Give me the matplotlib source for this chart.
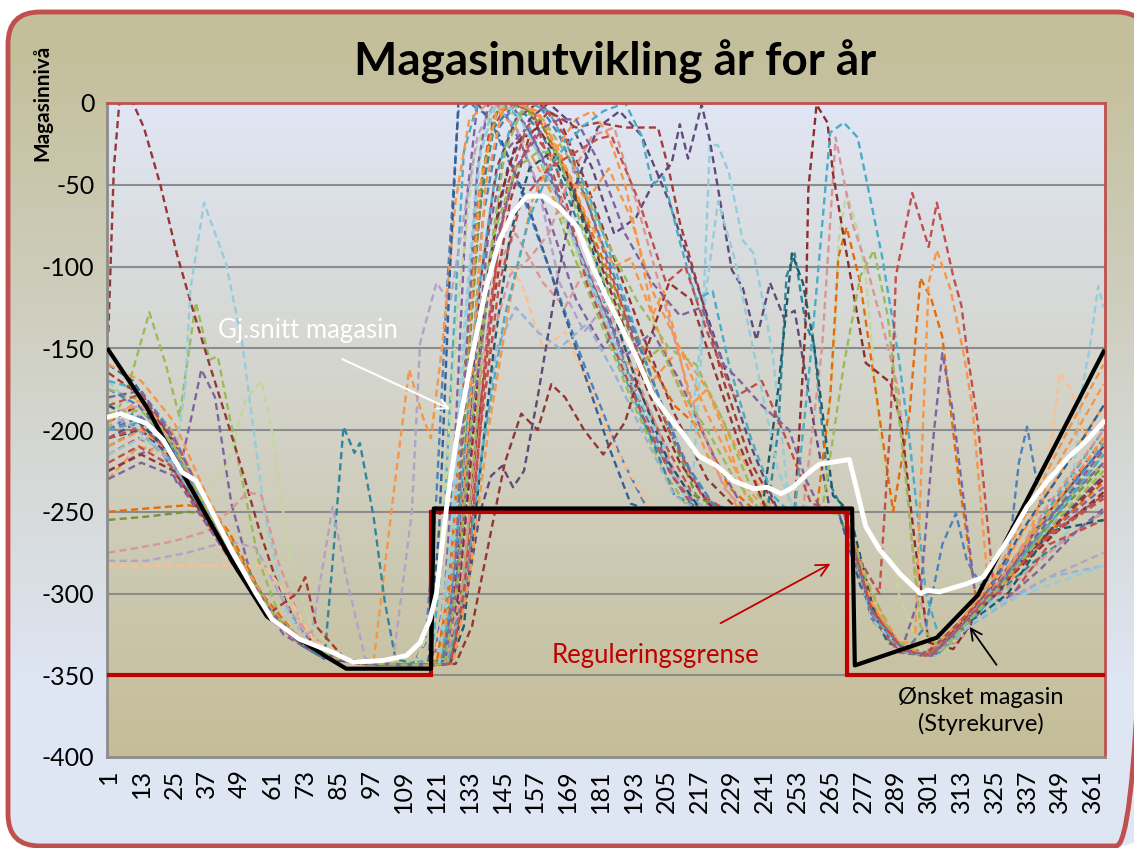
import numpy as np
import matplotlib
matplotlib.use("Agg")
import matplotlib.pyplot as plt
from matplotlib.patches import FancyBboxPatch
from matplotlib.colors import to_rgb

plt.rcParams['font.family'] = ['Lato', 'DejaVu Sans']

# ---------------- data (day, level) ----------------
aar01 = [(1,-200),(10,-190),(20,-200),(30,-235),(42,-268),(55,-300),(68,-325),(80,-338),(95,-343),(112,-344),(117,-330),(121,-240),(125,-110),(129,-5),(133,0),(140,-8),(150,-45),(162,-100),(175,-160),(188,-215),(198,-248),(215,-250),(240,-248),(268,-250),(276,-290),(285,-325),(295,-337),(305,-333),(315,-318),(328,-290),(345,-255),(365,-215)]
aar02 = [(1,-215),(12,-205),(22,-212),(35,-250),(48,-285),(60,-315),(72,-332),(85,-341),(100,-343),(118,-344),(124,-320),(129,-230),(134,-110),(140,-20),(147,0),(156,-5),(165,-50),(176,-105),(186,-150),(195,-175),(205,-210),(215,-240),(228,-250),(270,-250),(279,-305),(290,-330),(300,-337),(312,-320),(325,-300),(340,-268),(365,-228)]
aar03 = [(1,-200),(8,-175),(16,-128),(22,-160),(27,-192),(33,-122),(38,-157),(41,-155),(49,-223),(56,-280),(65,-320),(78,-336),(92,-342),(110,-343),(122,-340),(127,-280),(132,-170),(137,-60),(143,-5),(150,-2),(158,-30),(168,-80),(180,-130),(192,-180),(204,-225),(214,-250),(250,-248),(272,-252),(281,-318),(292,-335),(302,-336),(314,-316),(326,-296),(340,-262),(365,-220)]
aar04 = [(1,-225),(12,-215),(20,-210),(26,-232),(31,-195),(35,-163),(40,-180),(46,-245),(55,-300),(65,-325),(78,-338),(92,-343),(110,-344),(120,-342),(124,-300),(128,-200),(132,-60),(136,0),(144,0),(152,-25),(162,-70),(172,-120),(182,-150),(190,-130),(198,-160),(208,-205),(220,-245),(232,-250),(270,-250),(278,-300),(288,-332),(300,-338),(313,-318),(326,-298),(340,-270),(365,-235)]
aar05 = [(1,-185),(14,-195),(26,-225),(38,-258),(50,-288),(62,-316),(74,-333),(86,-341),(98,-343),(110,-344),(119,-340),(123,-280),(127,-150),(131,-30),(136,0),(145,0),(155,-15),(165,-55),(177,-110),(188,-160),(198,-200),(210,-235),(222,-250),(270,-250),(280,-310),(292,-336),(303,-338),(314,-318),(326,-295),(342,-255),(365,-200)]
aar06 = [(1,-230),(12,-210),(24,-215),(36,-250),(48,-285),(60,-313),(72,-330),(84,-340),(98,-342),(105,-243),(111,-163),(116,-192),(119,-205),(123,-150),(128,-60),(133,-10),(140,0),(150,-15),(160,-45),(170,-80),(180,-118),(190,-158),(200,-170),(210,-150),(220,-175),(232,-215),(244,-248),(270,-250),(278,-298),(289,-332),(300,-338),(312,-318),(325,-292),(340,-250),(365,-185)]
aar07 = [(1,-140),(3,-40),(5,0),(10,0),(14,-15),(20,-50),(26,-92),(32,-127),(38,-160),(44,-192),(50,-225),(56,-260),(62,-290),(70,-320),(80,-337),(92,-343),(112,-344),(122,-343),(127,-310),(132,-220),(137,-110),(143,-40),(150,-10),(158,0),(166,-10),(176,-50),(186,-95),(196,-140),(208,-190),(220,-230),(232,-250),(270,-250),(279,-305),(290,-334),(302,-337),(314,-317),(327,-292),(345,-250),(365,-210)]
aar08 = [(1,-170),(12,-190),(20,-205),(25,-220),(29,-176),(31,-114),(36,-61),(44,-98),(50,-147),(58,-250),(66,-310),(76,-334),(90,-342),(110,-344),(121,-342),(126,-270),(131,-140),(136,-40),(141,-5),(148,0),(156,-20),(166,-60),(178,-115),(190,-165),(202,-210),(214,-248),(218,-150),(221,-25),(224,-26),(228,-43),(233,-84),(237,-92),(242,-135),(244,-155),(250,-245),(270,-250),(280,-315),(292,-337),(303,-338),(315,-318),(328,-300),(345,-275),(352,-262),(357,-176),(360,-149),(363,-112),(365,-125)]
aar09 = [(1,-180),(12,-200),(24,-225),(36,-240),(45,-220),(51,-182),(57,-170),(61,-202),(67,-275),(75,-320),(87,-340),(100,-343),(113,-344),(119,-320),(124,-240),(129,-120),(135,-30),(142,0),(152,-10),(162,-45),(174,-100),(186,-150),(198,-195),(210,-235),(222,-250),(262,-250),(267,-135),(268,-84),(271,-55),(275,-78),(278,-106),(283,-200),(290,-300),(298,-335),(308,-336),(318,-312),(330,-285),(345,-255),(365,-225)]
aar10 = [(1,-210),(12,-200),(24,-220),(36,-252),(48,-283),(60,-312),(72,-332),(80,-340),(83,-281),(87,-198),(91,-214),(93,-208),(98,-253),(102,-304),(106,-340),(115,-344),(122,-343),(126,-300),(131,-180),(136,-70),(142,-15),(150,0),(160,-20),(172,-70),(184,-130),(196,-190),(208,-240),(220,-250),(242,-250),(246,-200),(249,-106),(252,-92),(256,-135),(259,-147),(264,-230),(270,-250),(280,-312),(292,-336),(303,-338),(314,-320),(326,-300),(340,-280),(365,-250)]
aar11 = [(1,-280),(15,-280),(30,-275),(45,-268),(55,-272),(65,-305),(75,-328),(83,-247),(88,-290),(95,-340),(105,-343),(112,-250),(115,-147),(121,-110),(126,-122),(131,-70),(136,-20),(142,0),(150,-15),(158,-50),(166,-110),(175,-140),(182,-125),(190,-160),(200,-200),(212,-240),(222,-250),(270,-250),(280,-310),(292,-336),(302,-338),(314,-320),(328,-305),(345,-290),(365,-275)]
aar12 = [(1,-275),(12,-272),(25,-268),(37,-262),(45,-250),(52,-238),(57,-240),(63,-280),(72,-320),(85,-340),(100,-343),(118,-344),(125,-335),(131,-270),(137,-170),(143,-100),(150,-80),(160,-110),(168,-125),(176,-100),(185,-130),(196,-175),(208,-225),(218,-250),(255,-250),(262,-150),(267,-21),(273,-73),(278,-98),(284,-135),(290,-176),(296,-290),(302,-333),(312,-330),(322,-306),(335,-290),(350,-268),(365,-250)]
aar13 = [(1,-283),(15,-283),(30,-283),(45,-283),(58,-283),(66,-300),(76,-328),(90,-342),(110,-344),(120,-342),(126,-290),(132,-200),(138,-130),(145,-95),(152,-110),(160,-150),(168,-140),(176,-170),(186,-210),(198,-245),(210,-250),(270,-250),(280,-310),(292,-335),(303,-337),(315,-315),(328,-290),(340,-255),(346,-205),(349,-165),(353,-175),(358,-205),(365,-195)]
aar14 = [(1,-250),(15,-248),(30,-246),(38,-248),(45,-262),(57,-300),(70,-326),(82,-338),(95,-343),(112,-344),(121,-343),(126,-290),(131,-170),(136,-60),(142,-8),(150,0),(158,-8),(168,-40),(178,-80),(188,-120),(198,-155),(208,-185),(218,-200),(228,-235),(238,-250),(260,-250),(265,-180),(268,-94),(271,-76),(276,-110),(282,-180),(288,-250),(294,-190),(298,-107),(302,-120),(306,-143),(312,-230),(318,-300),(326,-300),(340,-270),(365,-232)]
aar15 = [(1,-255),(15,-253),(30,-250),(40,-252),(50,-280),(62,-314),(74,-332),(86,-340),(100,-343),(116,-344),(123,-340),(128,-280),(133,-150),(138,-40),(144,0),(152,0),(160,-15),(170,-50),(182,-100),(194,-150),(206,-200),(216,-240),(226,-250),(268,-250),(276,-290),(286,-328),(298,-338),(310,-330),(322,-305),(336,-275),(350,-248),(365,-222)]
aar16 = [(1,-160),(10,-170),(22,-200),(34,-240),(46,-275),(58,-308),(70,-329),(82,-339),(96,-343),(112,-344),(118,-343),(122,-260),(126,-100),(129,0),(136,0),(144,-20),(154,-60),(164,-110),(174,-160),(184,-210),(192,-245),(200,-250),(268,-250),(276,-295),(286,-330),(298,-338),(310,-325),(322,-300),(335,-262),(350,-225),(365,-185)]
aar17 = [(1,-165),(12,-178),(24,-205),(36,-245),(48,-282),(60,-312),(70,-300),(73,-290),(77,-320),(88,-341),(100,-343),(118,-344),(126,-340),(131,-290),(136,-200),(142,-120),(148,-60),(155,-20),(162,-5),(172,-15),(180,-12),(190,-15),(196,-15),(202,-15),(206,-41),(210,-73),(218,-120),(226,-170),(236,-220),(246,-250),(270,-250),(280,-308),(290,-334),(300,-337),(312,-318),(325,-295),(340,-262),(365,-205)]
aar18 = [(1,-205),(12,-195),(25,-215),(37,-252),(49,-284),(61,-313),(73,-331),(85,-340),(97,-343),(112,-344),(124,-343),(129,-300),(134,-200),(140,-100),(147,-40),(155,-10),(162,0),(170,-12),(178,-40),(186,-80),(194,-70),(200,-50),(207,-37),(210,-13),(213,-34),(218,-1),(221,-23),(229,-102),(233,-113),(238,-145),(243,-110),(248,-131),(252,-127),(259,-196),(265,-250),(270,-250),(280,-310),(292,-335),(302,-338),(313,-318),(326,-300),(340,-272),(365,-240)]
aar19 = [(1,-195),(12,-185),(24,-205),(36,-248),(48,-282),(60,-312),(72,-331),(84,-340),(98,-343),(114,-344),(123,-343),(128,-320),(133,-230),(138,-130),(144,-60),(150,-25),(158,-15),(168,-40),(178,-85),(188,-130),(198,-175),(210,-220),(222,-248),(252,-250),(256,-135),(257,-53),(260,-1),(264,-12),(266,-43),(272,-102),(278,-159),(287,-171),(291,-196),(296,-270),(301,-330),(310,-334),(320,-310),(332,-288),(348,-262),(365,-238)]
aar20 = [(1,-170),(12,-175),(24,-200),(36,-245),(48,-280),(60,-311),(72,-330),(84,-340),(98,-343),(115,-344),(122,-343),(126,-310),(131,-220),(136,-120),(142,-50),(148,-15),(155,0),(162,-5),(170,-30),(180,-70),(190,-120),(200,-170),(212,-220),(224,-250),(252,-250),(257,-170),(260,-114),(265,-18),(270,-12),(275,-21),(278,-45),(284,-94),(290,-155),(294,-206),(300,-300),(306,-333),(316,-318),(328,-295),(345,-255),(365,-208)]
aar21 = [(1,-220),(12,-210),(24,-222),(36,-255),(48,-286),(60,-314),(72,-331),(84,-340),(98,-343),(115,-344),(125,-343),(130,-310),(135,-220),(141,-120),(147,-50),(154,-15),(160,-2),(168,-20),(176,-60),(186,-110),(196,-160),(206,-200),(218,-240),(228,-250),(270,-250),(276,-280),(283,-300),(287,-196),(288,-155),(289,-106),(295,-55),(301,-88),(304,-61),(310,-106),(313,-124),(315,-151),(319,-196),(325,-300),(332,-300),(345,-270),(365,-255)]
aar22 = [(1,-195),(12,-182),(24,-200),(36,-242),(48,-280),(60,-311),(72,-330),(84,-340),(98,-343),(115,-344),(122,-342),(127,-290),(132,-160),(137,-50),(143,-5),(150,0),(158,-5),(166,-30),(176,-70),(186,-100),(192,-95),(200,-130),(210,-175),(220,-215),(232,-250),(270,-250),(280,-300),(290,-330),(296,-330),(299,-194),(301,-110),(304,-90),(309,-114),(314,-155),(317,-186),(323,-300),(332,-290),(345,-230),(365,-172)]
aar23 = [(1,-230),(13,-220),(25,-228),(37,-258),(49,-287),(61,-315),(73,-332),(85,-341),(100,-343),(116,-344),(124,-343),(129,-290),(134,-180),(140,-80),(146,-30),(154,-15),(162,-40),(172,-85),(184,-135),(196,-185),(208,-230),(218,-250),(270,-250),(280,-315),(291,-335),(298,-300),(303,-200),(306,-153),(310,-190),(318,-300),(328,-305),(342,-285),(355,-262),(365,-248)]
aar24 = [(1,-190),(12,-200),(24,-220),(36,-250),(48,-283),(60,-312),(72,-331),(84,-340),(98,-343),(115,-344),(125,-343),(131,-300),(137,-220),(143,-150),(150,-125),(158,-140),(166,-150),(176,-135),(186,-165),(196,-200),(208,-240),(218,-250),(270,-250),(280,-312),(292,-336),(304,-338),(316,-320),(330,-305),(345,-290),(365,-283)]
aar25 = [(1,-175),(12,-185),(24,-210),(36,-248),(48,-282),(60,-312),(72,-331),(84,-340),(98,-343),(115,-344),(123,-343),(128,-300),(133,-180),(138,-70),(144,-15),(150,0),(158,0),(166,-20),(176,-60),(188,-115),(200,-170),(212,-220),(224,-250),(270,-250),(280,-312),(292,-336),(300,-320),(306,-270),(311,-251),(315,-280),(322,-300),(330,-280),(334,-220),(337,-198),(342,-245),(350,-240),(365,-210)]
aar26 = [(1,-185),(12,-195),(24,-215),(36,-250),(48,-284),(60,-313),(72,-331),(84,-340),(98,-343),(115,-344),(126,-343),(131,-320),(136,-240),(142,-150),(148,-80),(155,-40),(163,-30),(172,-60),(182,-110),(194,-170),(206,-220),(218,-250),(240,-250),(246,-175),(251,-92),(255,-110),(259,-147),(266,-240),(272,-250),(282,-318),(293,-336),(304,-337),(316,-318),(330,-300),(345,-262),(365,-255)]
aar27 = [(1,-175),(13,-182),(25,-210),(37,-248),(49,-282),(61,-312),(73,-331),(85,-340),(100,-343),(116,-344),(125,-343),(130,-310),(135,-210),(140,-100),(146,-30),(152,-5),(160,-10),(170,-35),(182,-80),(194,-120),(206,-150),(216,-160),(226,-195),(236,-235),(244,-250),(270,-250),(278,-290),(288,-328),(300,-338),(312,-322),(325,-298),(340,-260),(365,-215)]
aar28 = [(1,-160),(13,-170),(25,-195),(37,-240),(49,-278),(61,-311),(73,-330),(85,-340),(100,-343),(117,-344),(124,-343),(129,-290),(134,-160),(139,-50),(145,-5),(152,0),(160,-10),(168,-40),(176,-60),(184,-40),(192,-70),(200,-115),(210,-150),(220,-190),(232,-230),(242,-250),(270,-250),(280,-305),(290,-333),(300,-337),(312,-318),(325,-290),(340,-240),(352,-200),(365,-160)]
aar29 = [(1,-200),(13,-192),(25,-212),(37,-250),(49,-284),(61,-313),(73,-331),(85,-340),(100,-343),(117,-344),(124,-343),(128,-280),(132,-150),(136,-40),(140,0),(148,0),(156,-20),(166,-60),(178,-110),(190,-155),(200,-140),(210,-170),(222,-215),(234,-250),(270,-250),(280,-310),(292,-336),(302,-337),(314,-318),(326,-298),(340,-262),(365,-220)]
aar30 = [(1,-185),(13,-178),(25,-205),(37,-247),(49,-283),(61,-312),(73,-331),(85,-340),(100,-343),(118,-344),(126,-343),(132,-300),(138,-180),(144,-80),(150,-40),(157,-20),(164,-35),(170,-70),(176,-110),(186,-150),(196,-190),(206,-225),(216,-250),(270,-250),(280,-312),(290,-336),(300,-338),(312,-318),(325,-296),(340,-270),(365,-240)]
aar31 = [(1,-215),(13,-205),(25,-215),(37,-252),(49,-284),(61,-313),(73,-331),(85,-340),(100,-343),(116,-344),(122,-343),(127,-270),(132,-130),(137,-30),(143,0),(150,-5),(158,-30),(168,-70),(180,-120),(192,-170),(204,-210),(214,-200),(220,-110),(224,-60),(230,-95),(238,-160),(246,-225),(252,-250),(270,-250),(280,-315),(292,-336),(303,-338),(315,-320),(328,-305),(345,-295),(365,-283)]
aar32 = [(1,-190),(13,-185),(25,-208),(37,-248),(49,-282),(61,-312),(73,-331),(85,-340),(100,-343),(118,-344),(124,-343),(130,-300),(136,-210),(142,-140),(148,-105),(155,-95),(162,-80),(170,-45),(178,-20),(186,-15),(194,-60),(204,-120),(214,-180),(226,-235),(234,-250),(270,-250),(280,-312),(292,-336),(302,-338),(314,-318),(327,-292),(345,-245),(365,-200)]
aar33 = [(1,-205),(13,-200),(25,-218),(37,-252),(49,-285),(61,-314),(73,-332),(85,-340),(100,-343),(118,-344),(126,-343),(132,-300),(137,-250),(141,-228),(145,-222),(149,-235),(153,-225),(158,-180),(165,-110),(172,-50),(180,-15),(188,-5),(196,-20),(206,-60),(216,-110),(226,-160),(236,-210),(246,-250),(270,-250),(280,-312),(292,-336),(302,-338),(314,-318),(327,-295),(345,-262),(365,-228)]
aar34 = [(1,-225),(13,-215),(25,-225),(37,-256),(49,-286),(61,-314),(73,-332),(85,-341),(100,-343),(118,-344),(128,-343),(134,-320),(140,-270),(146,-220),(152,-190),(158,-200),(163,-172),(168,-180),(175,-200),(182,-215),(190,-195),(198,-150),(206,-110),(214,-120),(222,-160),(232,-210),(242,-250),(270,-250),(280,-312),(292,-336),(302,-338),(314,-318),(327,-295),(345,-262),(365,-230)]
aar35 = [(1,-210),(13,-200),(25,-215),(37,-250),(49,-283),(61,-312),(73,-331),(85,-340),(100,-343),(118,-344),(127,-343),(133,-290),(140,-200),(148,-120),(156,-60),(164,-30),(172,-10),(178,-5),(184,-20),(190,-50),(196,-95),(200,-130),(204,-115),(208,-140),(214,-185),(220,-175),(226,-200),(234,-240),(240,-250),(270,-250),(280,-310),(292,-335),(302,-338),(314,-318),(327,-292),(345,-250),(365,-205)]
aar36 = [(1,-200),(13,-195),(25,-212),(37,-250),(49,-284),(61,-313),(73,-331),(85,-340),(100,-343),(118,-344),(125,-343),(131,-300),(138,-210),(146,-130),(155,-70),(164,-35),(174,-15),(182,-5),(190,0),(196,-20),(200,-50),(204,-45),(210,-85),(216,-120),(222,-115),(228,-160),(236,-205),(244,-240),(250,-250),(270,-250),(280,-312),(292,-336),(302,-338),(314,-318),(327,-294),(345,-258),(365,-215)]
aar37 = [(1,-180),(13,-176),(25,-205),(37,-246),(49,-282),(61,-312),(73,-331),(85,-340),(100,-343),(117,-344),(124,-343),(129,-290),(135,-180),(142,-90),(150,-40),(160,-15),(166,-10),(172,-10),(180,-35),(190,-80),(200,-110),(210,-130),(218,-125),(226,-160),(232,-170),(240,-185),(250,-200),(256,-230),(262,-250),(270,-250),(280,-310),(292,-335),(302,-338),(314,-318),(327,-293),(345,-255),(365,-212)]
aar38 = [(1,-205),(13,-198),(25,-215),(37,-250),(49,-284),(61,-313),(73,-331),(85,-340),(100,-343),(118,-344),(126,-343),(131,-300),(137,-200),(144,-110),(152,-60),(162,-40),(172,-30),(180,-22),(185,-20),(195,-60),(205,-110),(212,-100),(220,-140),(230,-180),(240,-170),(250,-210),(258,-245),(270,-250),(280,-310),(292,-335),(302,-338),(314,-318),(327,-295),(345,-265),(365,-242)]
aar39 = [(1,-190),(13,-188),(25,-210),(37,-249),(49,-283),(61,-312),(73,-331),(85,-340),(100,-343),(118,-344),(124,-343),(129,-290),(135,-170),(142,-80),(150,-40),(158,-30),(165,-30),(175,-80),(185,-120),(195,-160),(203,-150),(210,-175),(220,-200),(230,-230),(240,-250),(262,-250),(270,-160),(276,-106),(281,-90),(286,-130),(292,-220),(298,-320),(306,-335),(316,-316),(328,-294),(345,-260),(365,-225)]

year_colors = ['#4f81bd', '#c0504d', '#9bbb59', '#8064a2', '#4bacc6', '#f79646', '#953735',
               '#93cddd', '#c3d69b', '#31859c', '#b3a2c7', '#d99694', '#fac090', '#e46c0a',
               '#77933c', '#376092', '#a33b38', '#604a7b', '#8b2e2c', '#4bacc6', '#c0504d',
               '#f79646', '#8064a2', '#95b3d7', '#4f81bd', '#215968', '#9bbb59', '#f79646',
               '#8064a2', '#c0504d', '#93cddd', '#d99694', '#5f497a', '#943634', '#f79646',
               '#4bacc6', '#8064a2', '#c0504d', '#9bbb59']

# average reservoir (Gj.snitt magasin)
snitt_dag = [1, 5.5, 15, 21, 28, 33, 38, 46.5, 55, 61, 71, 83, 90.5, 101.5, 110, 115, 118.6, 121, 125,
             128.5, 134, 139, 144, 149, 154, 160, 166, 172.5, 178, 183, 188, 194, 200, 206, 211, 217,
             223.6, 229.5, 237, 242, 247, 251.5, 256.5, 261, 272, 274.5, 278, 283, 290.5, 298, 300.5,
             305, 315, 321, 330, 337, 344.5, 352, 359, 365]
snitt_niva = [-192, -190, -196, -206, -226, -231, -247, -275, -300, -316, -328, -336, -342, -341, -338,
              -330, -316, -300, -243, -204, -155, -114, -84, -67, -57, -57, -64, -76, -100, -118, -135,
              -155, -178, -192, -202, -216, -222, -231, -236, -235, -239, -235, -227, -221, -218, -235,
              -259, -273, -288, -300, -298, -299, -294, -290, -267, -247, -231, -217, -206, -195]

# desired reservoir (Ønsket magasin / Styrekurve)
styre_dag = [1, 15, 28, 46.5, 59, 71, 81, 88, 119, 120, 273, 274, 304, 319, 365]
styre_niva = [-151, -186, -226, -281, -314, -328, -339, -346, -346, -248, -248, -344, -327, -301, -152]

# regulation limit (Reguleringsgrense)
regul_dag = [1, 119, 119, 271, 271, 365]
regul_niva = [-350, -350, -250, -250, -350, -350]

x_ticks = list(range(1, 366, 12))
y_ticks = [0, -50, -100, -150, -200, -250, -300, -350, -400]

# ---------------- figure ----------------
W, H = 1134, 848
fig = plt.figure(figsize=(W / 100, H / 100), dpi=100)

def vgrad(c_top, c_bot, n=256, stops=None):
    t = np.linspace(0, 1, n) if stops is None else stops
    a = np.array(to_rgb(c_top)); b = np.array(to_rgb(c_bot))
    g = a[None, :] * (1 - t[:, None]) + b[None, :] * t[:, None]
    return g[:, None, :]

# outer rounded panel
bg = fig.add_axes([0, 0, 1, 1])
bg.set_xlim(0, W); bg.set_ylim(H, 0); bg.axis('off')
box = FancyBboxPatch((8, 12), 1140, 834, boxstyle="round,pad=0,rounding_size=32",
                     transform=bg.transData, facecolor='none', edgecolor='#c0504d', lw=3.5, zorder=3)
t = np.clip((np.linspace(0, 1, 256) - 0.05) / 0.75, 0, 1)
im = bg.imshow(vgrad('#c4bf9b', '#dee5f3', stops=t), extent=[8, 1148, 846, 12], aspect='auto', zorder=1)
clip = FancyBboxPatch((8, 12), 1140, 834, boxstyle="round,pad=0,rounding_size=32",
                      transform=bg.transData, facecolor='none', edgecolor='none')
bg.add_patch(clip)
im.set_clip_path(clip)
bg.add_patch(box)

# plot area
L, R, T, B = 107, 1105, 103, 757
ax = fig.add_axes([L / W, 1 - B / H, (R - L) / W, (B - T) / H])
ax.imshow(vgrad('#e0e6f4', '#c4bd97'), extent=[0.5, 365.5, -400, 0], aspect='auto', zorder=0)

for yv in y_ticks[1:-1]:
    ax.axhline(yv, color='#8c8c8c', lw=1.5, zorder=1)

series = [aar01, aar02, aar03, aar04, aar05, aar06, aar07, aar08, aar09, aar10, aar11, aar12,
          aar13, aar14, aar15, aar16, aar17, aar18, aar19, aar20, aar21, aar22, aar23, aar24,
          aar25, aar26, aar27, aar28, aar29, aar30, aar31, aar32, aar33, aar34, aar35, aar36,
          aar37, aar38, aar39]
for s, c in zip(series, year_colors):
    d = [p[0] for p in s]; v = [p[1] for p in s]
    ax.plot(d, v, color=c, lw=1.7, linestyle=(0, (3, 1.8)), zorder=2)

ax.plot(regul_dag, regul_niva, color='#c00000', lw=3, zorder=4, solid_joinstyle='miter')
ax.plot(styre_dag, styre_niva, color='black', lw=3, zorder=5)
ax.plot(snitt_dag, snitt_niva, color='white', lw=3.5, zorder=6)

ax.set_xlim(0.5, 365.5)
ax.set_ylim(-400, 0)
ax.set_xticks(x_ticks)
ax.set_xticklabels([str(v) for v in x_ticks], rotation=90, fontsize=18)
ax.set_yticks(y_ticks)
ax.set_yticklabels([str(v) for v in y_ticks], fontsize=18)
ax.tick_params(length=0, pad=9)
for side in ['left', 'bottom']:
    ax.spines[side].set_color('#8c8c8c'); ax.spines[side].set_linewidth(2)
for side in ['top', 'right']:
    ax.spines[side].set_color('#c0504d'); ax.spines[side].set_linewidth(2)

# annotations
ax.text(74, -139, 'Gj.snitt magasin', color='white', fontsize=18.5, ha='center', va='center', zorder=7)
ax.annotate('', xy=(127, -188), xytext=(85.7, -156),
            arrowprops=dict(arrowstyle='->', color='white', lw=1.5, mutation_scale=18), zorder=7)
ax.text(201, -338, 'Reguleringsgrense', color='#c00000', fontsize=18.5, ha='center', va='center', zorder=7)
ax.annotate('', xy=(266, -281), xytext=(224, -319),
            arrowprops=dict(arrowstyle='->', color='#c00000', lw=1.3, mutation_scale=22), zorder=7)
ax.text(320, -372, 'Ønsket magasin\n(Styrekurve)', color='black', fontsize=17, ha='center',
        va='center', linespacing=1.3, zorder=7)
ax.annotate('', xy=(315.4, -319), xytext=(326.4, -345),
            arrowprops=dict(arrowstyle='->', color='black', lw=1.3, mutation_scale=20), zorder=7)

fig.text(615 / W, 1 - 62 / H, 'Magasinutvikling år for år', fontsize=33, fontweight='bold',
         ha='center', va='center')
fig.text(42 / W, 1 - 103 / H, 'Magasinnivå', fontsize=15, fontweight='bold', rotation=90,
         ha='center', va='center')

fig.savefig('out.png', dpi=100)
